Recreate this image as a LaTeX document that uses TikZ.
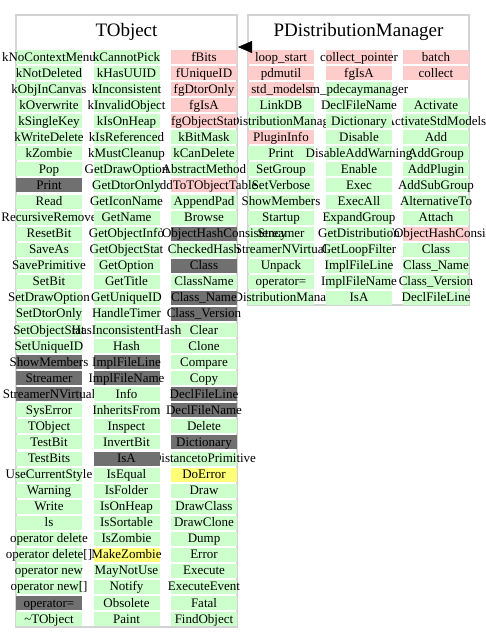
\documentclass[tikz,border=0pt]{standalone}
\usepackage{fontspec}
\setmainfont{Liberation Serif}
\usepackage{tikz}
\usetikzlibrary{positioning, arrows.meta, calc}

% one column of class members: prefix, x centre, list of text/kind
\newcommand{\memcol}[3]{%
  \foreach \t/\k [count=\r] in {#3} {
    \node[cell, cell\k] (#1-\r) at (#2, {57+16.06*(\r-1)}) {};
    \node[lbl] (#1-\r-l) at (#1-\r) {\t};
  }}

\begin{document}
\begin{tikzpicture}[x=1pt, y=-1pt, >=latex]
    \definecolor{cg}{RGB}{204,255,204} \definecolor{cp}{RGB}{255,204,204}
    \definecolor{cd}{RGB}{112,112,112} \definecolor{cy}{RGB}{255,255,119}
    \definecolor{cb}{RGB}{211,211,211}
    \tikzset{
        classbox/.style={draw=cb, line width=2pt, inner sep=0pt},
        ctitle/.style={font=\fontsize{19}{20}\selectfont, anchor=base, inner sep=0pt},
        cell/.style={minimum width=66pt, minimum height=14pt, inner sep=0pt},
        cellg/.style={fill=cg}, cellp/.style={fill=cp}, celld/.style={fill=cd},
        celly/.style={fill=cy}, celln/.style={},
        lbl/.style={font=\fontsize{13}{14}\selectfont, inner sep=0pt, text height=10pt, text depth=2pt},
        inh/.style={-{Triangle[length=14pt, width=12pt]}, black}
    }
    \useasboundingbox (0,0) rectangle (485,643);

    \node[classbox, minimum width=221pt, minimum height=612pt] (tobj) at (126.5,321) {};
    \node[classbox, minimum width=221pt, minimum height=290pt] (pdm) at (358.5,160) {};
    \node[ctitle] (tobj-t) at (126.5,36) {TObject};
    \node[ctitle] (pdm-t) at (358.5,36) {PDistributionManager};

    % PDistributionManager
    \memcol{pa}{281}{loop\_start/p, pdmutil/p, std\_models/p, LinkDB/g, PDistributionManager/g,
        PluginInfo/p, Print/g, SetGroup/g, SetVerbose/g, ShowMembers/g, Startup/g, Streamer/g,
        StreamerNVirtual/g, Unpack/g, operator=/g, \textasciitilde PDistributionManager/g}
    \memcol{pc}{436}{batch/p, collect/p, {}/n, Activate/g, ActivateStdModels/g, Add/g, AddGroup/g,
        AddPlugin/g, AddSubGroup/g, AlternativeTo/g, Attach/g, CheckTObjectHashConsistency/p,
        Class/g, Class\_Name/g, Class\_Version/g, DeclFileLine/g}
    \memcol{pb}{359}{collect\_pointer/p, fgIsA/p, m\_pdecaymanager/g, DeclFileName/g, Dictionary/g,
        Disable/g, DisableAddWarning/g, Enable/g, Exec/g, ExecAll/g, ExpandGroup/g,
        GetDistribution/g, GetLoopFilter/g, ImplFileLine/g, ImplFileName/g, IsA/g}

    % TObject
    \memcol{ta}{49}{kNoContextMenu/g, kNotDeleted/g, kObjInCanvas/g, kOverwrite/g, kSingleKey/g,
        kWriteDelete/g, kZombie/g, Pop/g, Print/d, Read/g, RecursiveRemove/g, ResetBit/g, SaveAs/g,
        SavePrimitive/g, SetBit/g, SetDrawOption/g, SetDtorOnly/g, SetObjectStat/g, SetUniqueID/g,
        ShowMembers/d, Streamer/d, StreamerNVirtual/d, SysError/g, TObject/g, TestBit/g, TestBits/g,
        UseCurrentStyle/g, Warning/g, Write/g, ls/g, operator delete/g, {operator delete[]}/g,
        operator new/g, {operator new[]}/g, operator=/d, \textasciitilde TObject/g}
    \memcol{tc}{204}{fBits/p, fUniqueID/p, fgDtorOnly/p, fgIsA/p, fgObjectStat/p, kBitMask/g,
        kCanDelete/g, AbstractMethod/g, AddToTObjectTable/p, AppendPad/g, Browse/g,
        CheckTObjectHashConsistency/d, CheckedHash/g, Class/d, ClassName/g, Class\_Name/d,
        Class\_Version/d, Clear/g, Clone/g, Compare/g, Copy/g, DeclFileLine/d, DeclFileName/d,
        Delete/g, Dictionary/d, DistancetoPrimitive/g, DoError/y, Draw/g, DrawClass/g, DrawClone/g,
        Dump/g, Error/g, Execute/g, ExecuteEvent/g, Fatal/g, FindObject/g}
    \memcol{tb}{126.5}{kCannotPick/g, kHasUUID/g, kInconsistent/g, kInvalidObject/g, kIsOnHeap/g,
        kIsReferenced/g, kMustCleanup/g, GetDrawOption/g, GetDtorOnly/g, GetIconName/g, GetName/g,
        GetObjectInfo/g, GetObjectStat/g, GetOption/g, GetTitle/g, GetUniqueID/g, HandleTimer/g,
        HasInconsistentHash/g, Hash/g, ImplFileLine/d, ImplFileName/d, Info/g, InheritsFrom/g,
        Inspect/g, InvertBit/g, IsA/d, IsEqual/g, IsFolder/g, IsOnHeap/g, IsSortable/g, IsZombie/g,
        MakeZombie/y, MayNotUse/g, Notify/g, Obsolete/g, Paint/g}

    \coordinate (inh-s) at ($(pdm.west |- tobj-t.base)+(3,11)$);
    \draw[inh] (inh-s) -- (inh-s -| tobj.east);
\end{tikzpicture}
\end{document}
